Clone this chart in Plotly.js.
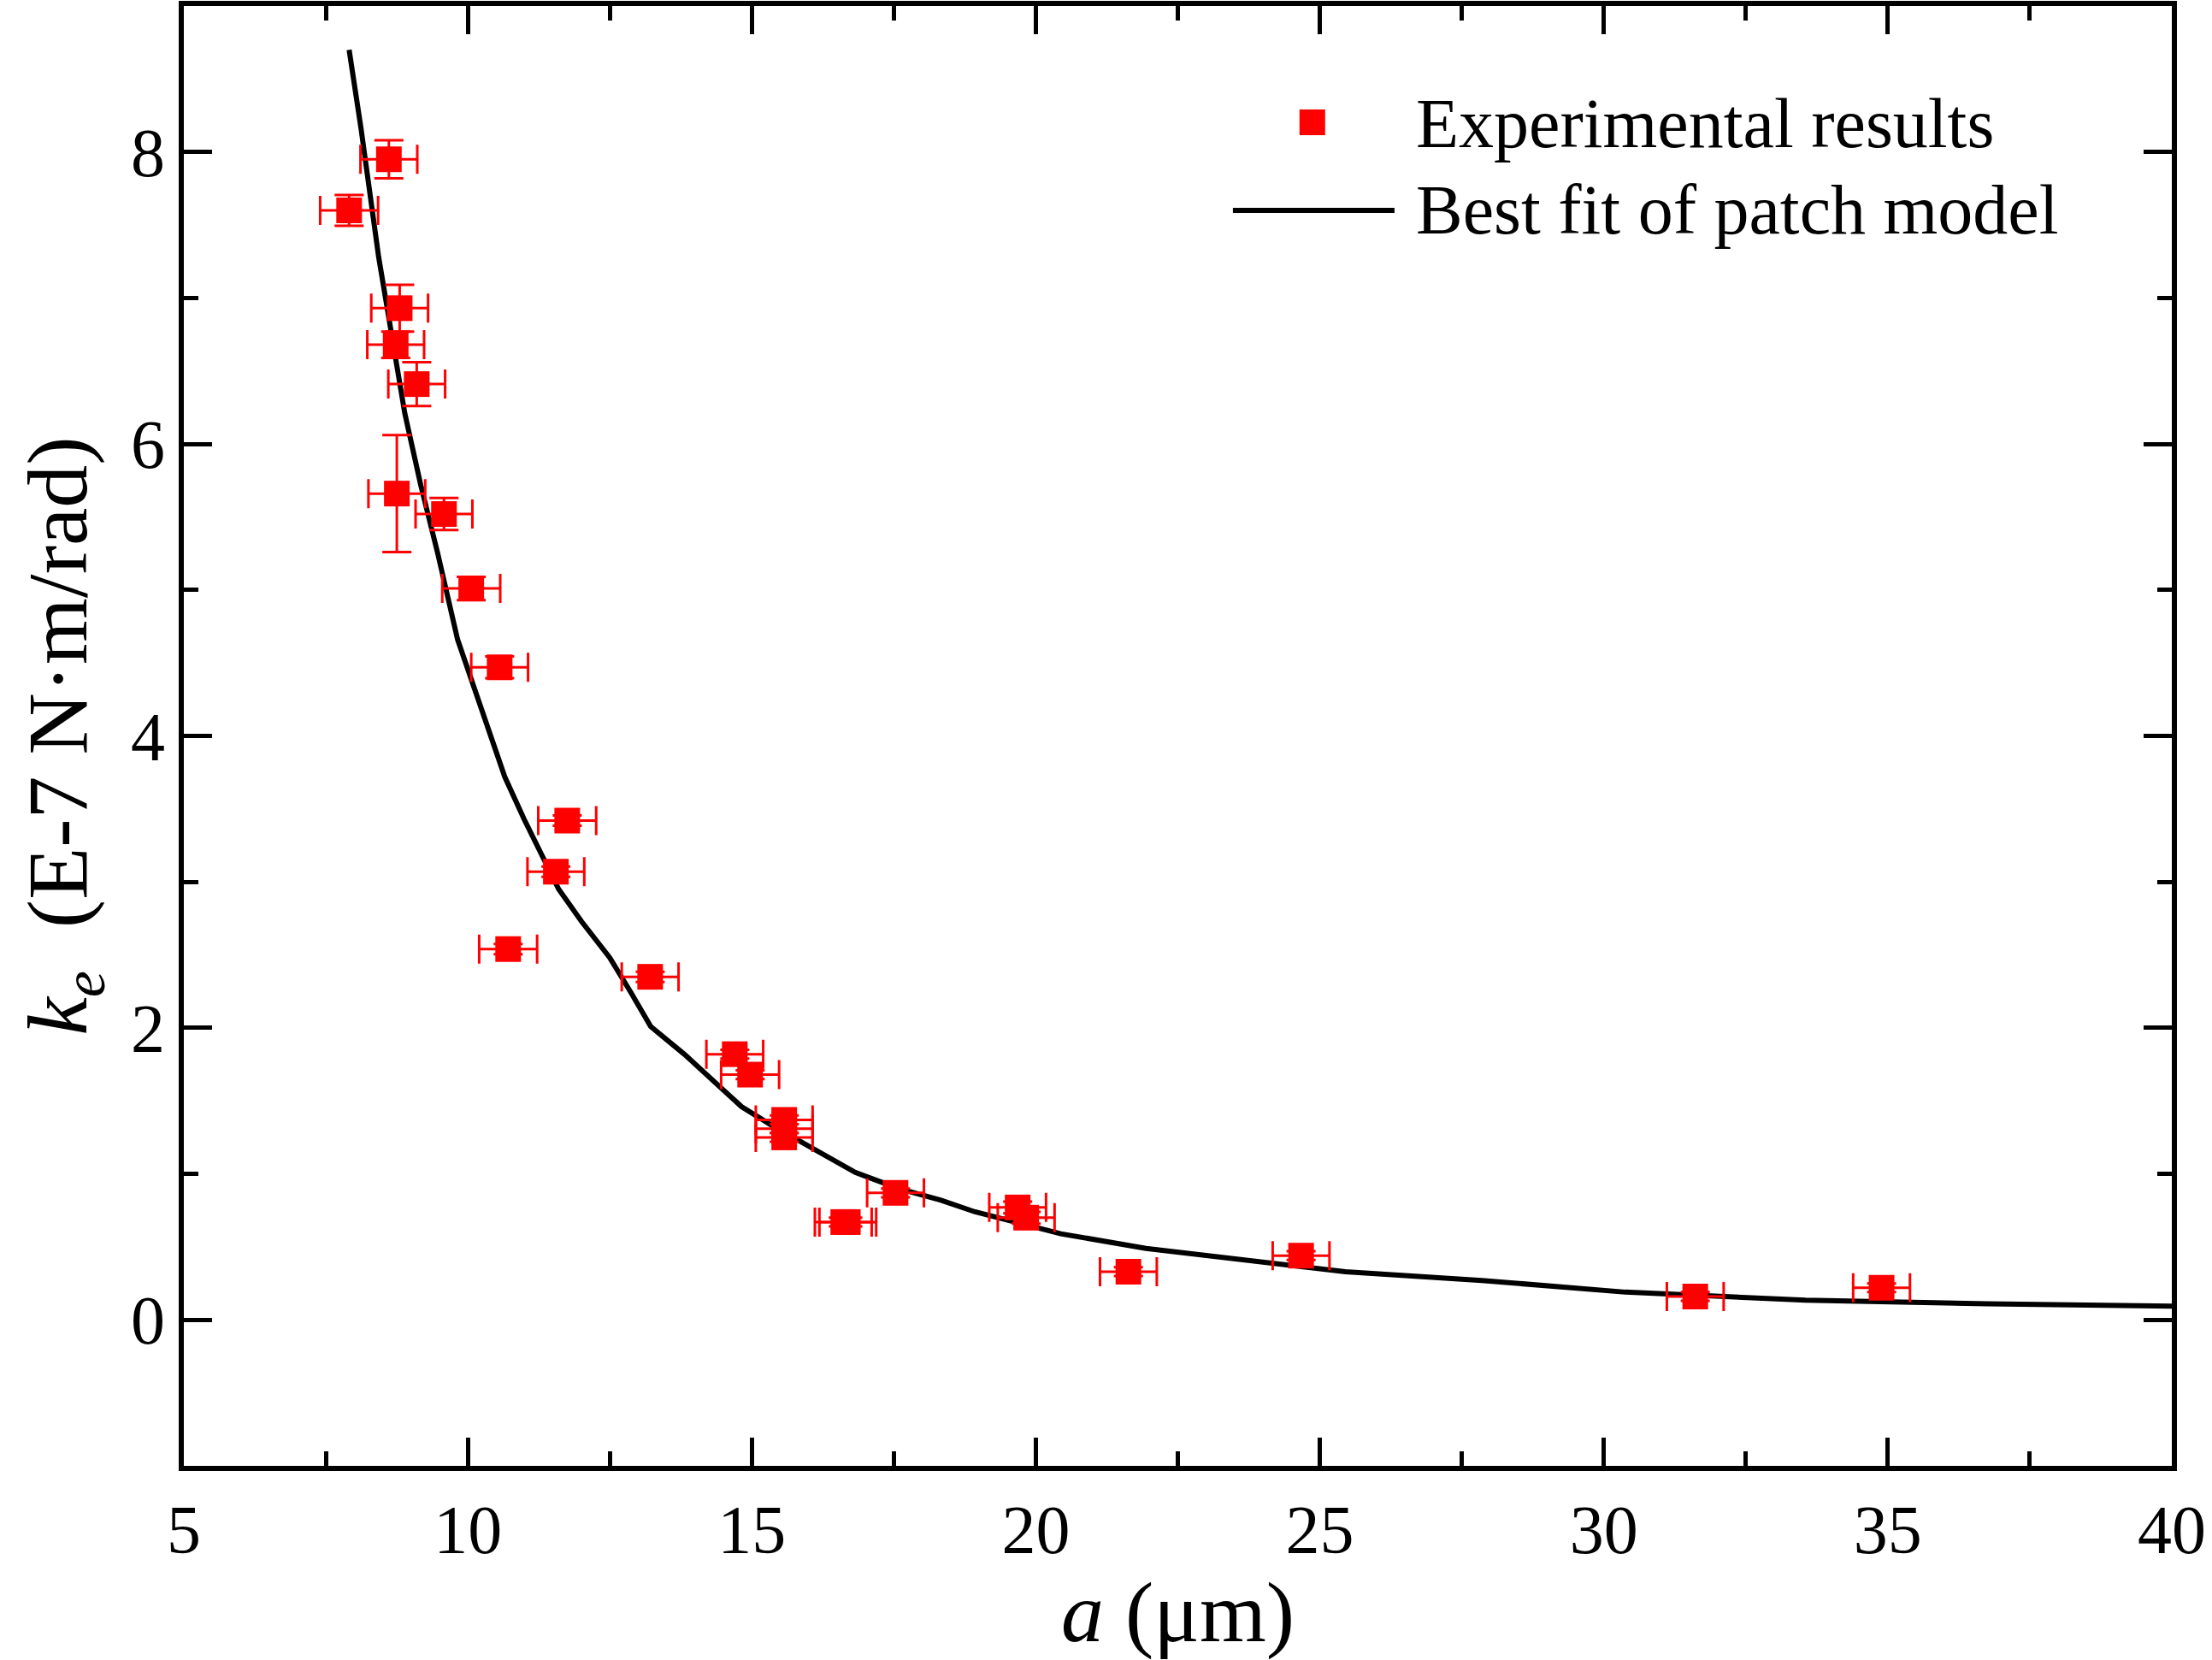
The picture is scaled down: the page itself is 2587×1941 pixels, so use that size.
<!DOCTYPE html>
<html>
<head>
<meta charset="utf-8">
<script src="https://cdn.plot.ly/plotly-3.0.1.min.js"></script>
<style>html,body{margin:0;padding:0;background:#fff;}#chart{width:2587px;height:1941px;}</style>
</head>
<body>
<div id="chart"></div>
<script>
// Experimental results: a (um), ke (E-7 N·m/rad), errors
const expA   = [7.91, 8.61, 8.80, 8.73, 9.10, 8.75, 9.58, 10.06, 10.56, 11.75, 11.55, 10.71, 13.21, 14.70, 14.97, 15.57, 15.57, 15.57, 16.61, 16.69, 17.53, 19.68, 19.83, 21.63, 24.67, 31.61, 34.89];
const expK   = [7.60, 7.95, 6.93, 6.68, 6.41, 5.66, 5.52, 5.01, 4.47, 3.42, 3.07, 2.54, 2.35, 1.82, 1.68, 1.37, 1.31, 1.25, 0.67, 0.67, 0.87, 0.77, 0.70, 0.33, 0.44, 0.16, 0.22];
const errA   = [0.51, 0.50, 0.50, 0.50, 0.50, 0.50, 0.50, 0.51, 0.50, 0.51, 0.50, 0.51, 0.50, 0.50, 0.51, 0.50, 0.50, 0.50, 0.50, 0.50, 0.50, 0.50, 0.50, 0.50, 0.50, 0.50, 0.50];
const errK   = [0.105, 0.13, 0.16, 0.09, 0.15, 0.40, 0.11, 0.08, 0.075, 0.035, 0.035, 0.035, 0.035, 0.03, 0.03, 0.03, 0.03, 0.03, 0.03, 0.03, 0.03, 0.04, 0.04, 0.03, 0.03, 0.03, 0.03];

// Best fit of patch model
const fitA = [7.91, 8.12, 8.43, 8.69, 8.89, 9.17, 9.47, 9.82, 10.04, 10.35, 10.65, 10.99, 11.30, 11.60, 12.00, 12.50, 12.86, 13.22, 13.81, 14.41, 14.82, 15.32, 16.07, 16.82, 17.58, 18.33, 18.93, 20.44, 21.94, 23.45, 25.45, 27.85, 30.38, 33.55, 36.75, 40.0];
const fitK = [8.70, 8.16, 7.28, 6.68, 6.21, 5.72, 5.25, 4.66, 4.41, 4.04, 3.72, 3.43, 3.18, 2.95, 2.73, 2.48, 2.25, 2.01, 1.82, 1.61, 1.46, 1.34, 1.17, 1.01, 0.90, 0.82, 0.74, 0.59, 0.49, 0.42, 0.33, 0.27, 0.19, 0.135, 0.11, 0.094];

const xTicks = [5, 10, 15, 20, 25, 30, 35, 40];
const yTicks = [0, 2, 4, 6, 8];
const legendNames = ['Experimental results', 'Best fit of patch model'];

const FONT = 'Liberation Serif, Times New Roman, serif';

const traces = [
  {
    x: fitA, y: fitK, type: 'scatter', mode: 'lines',
    line: {color: '#000000', width: 6},
    name: legendNames[1], showlegend: false, hoverinfo: 'skip'
  },
  {
    x: expA, y: expK, type: 'scatter', mode: 'markers',
    marker: {symbol: 'square', size: 30, color: '#FF0000'},
    error_x: {type: 'data', array: errA, visible: true, color: '#FF0000', thickness: 3, width: 17},
    error_y: {type: 'data', array: errK, visible: true, color: '#FF0000', thickness: 3, width: 17},
    name: legendNames[0], showlegend: false
  }
];

const axisCommon = {
  showline: true, linecolor: '#000', linewidth: 6, mirror: 'ticks',
  ticks: 'inside', tickcolor: '#000', tickwidth: 5, ticklen: 33,
  showgrid: false, zeroline: false,
  tickfont: {family: FONT, size: 80, color: '#000'}
};

const layout = {
  width: 2587, height: 1941,
  margin: {l: 215, r: 47, t: 7, b: 227},
  paper_bgcolor: '#fff', plot_bgcolor: '#fff',
  showlegend: false,
  xaxis: Object.assign({}, axisCommon, {
    range: [5, 40], tickmode: 'array', tickvals: xTicks, ticktext: xTicks.map(String),
    minor: {dtick: 2.5, tick0: 5, ticks: 'inside', ticklen: 17, tickwidth: 5, tickcolor: '#000', showgrid: false},
    title: {text: '<i>a</i> (μm)', font: {family: FONT, size: 100, color: '#000'}, standoff: 10}
  }),
  yaxis: Object.assign({}, axisCommon, {
    range: [-1, 9], tickmode: 'array', tickvals: yTicks, ticktext: yTicks.map(String),
    minor: {dtick: 1, tick0: 0, ticks: 'inside', ticklen: 17, tickwidth: 5, tickcolor: '#000', showgrid: false},
    title: {text: '<i>k</i><sub><i>e</i></sub>&#160; (E-7 N·m/rad)', font: {family: FONT, size: 100, color: '#000'}, standoff: 20}
  }),
  shapes: [
    {type: 'rect', xref: 'paper', yref: 'paper', x0: 0.5612, x1: 0.5741, y0: 0.9115, y1: 0.9291,
     fillcolor: '#FF0000', line: {width: 0}},
    {type: 'line', xref: 'paper', yref: 'paper', x0: 0.5277, x1: 0.6090, y0: 0.860, y1: 0.860,
     line: {color: '#000', width: 6}}
  ],
  annotations: [
    {xref: 'paper', yref: 'paper', x: 0.619, y: 0.9197, xanchor: 'left', yanchor: 'middle',
     text: legendNames[0], showarrow: false, font: {family: FONT, size: 82, color: '#000'}},
    {xref: 'paper', yref: 'paper', x: 0.619, y: 0.860, xanchor: 'left', yanchor: 'middle',
     text: legendNames[1], showarrow: false, font: {family: FONT, size: 82, color: '#000'}}
  ]
};

Plotly.newPlot('chart', traces, layout, {displayModeBar: false, staticPlot: true});
</script>
</body>
</html>
